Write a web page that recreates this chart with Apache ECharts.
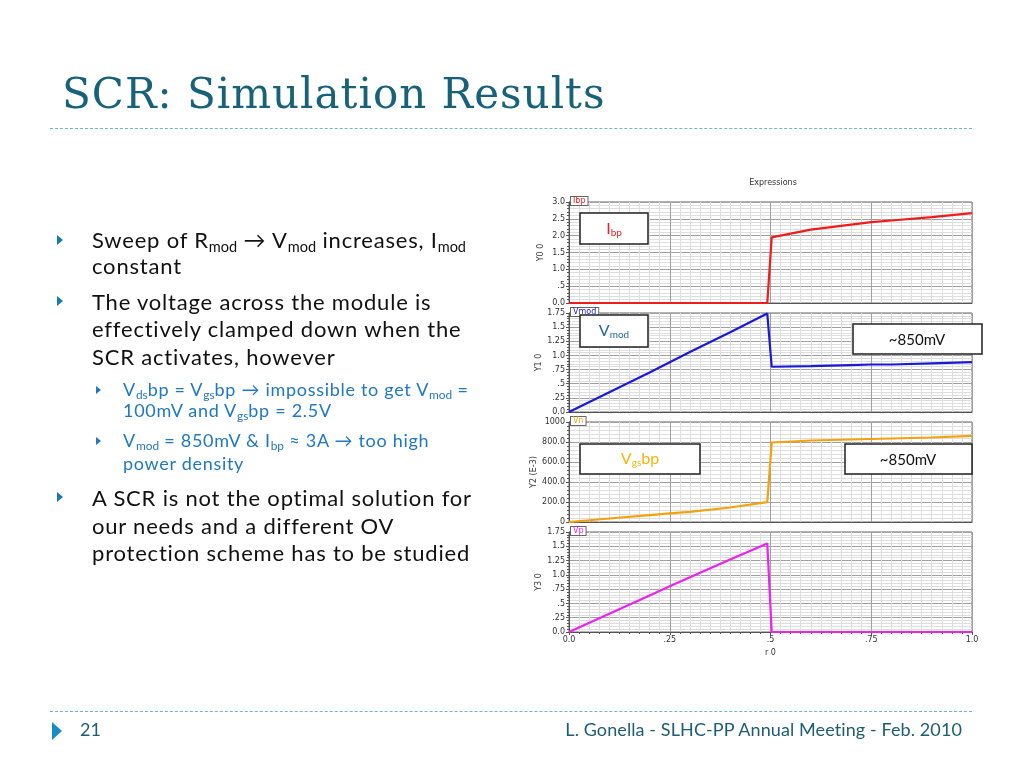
<!DOCTYPE html>
<html>
<head>
<meta charset="utf-8">
<script src="https://cdn.jsdelivr.net/npm/echarts@6/dist/echarts.min.js"></script>
<style>
  html, body { margin:0; padding:0; background:#fff; }
  #wrap { position:relative; width:1024px; height:768px; overflow:hidden; }
  #chart { position:absolute; left:0; top:0; width:1024px; height:768px; }
  .t { position:absolute; white-space:nowrap; font-family:Lato, "Open Sans", sans-serif; font-variant-ligatures:none; }
  .title { left:62px; top:69px; font-family:"DejaVu Serif", serif; font-size:42px; color:#17617b; letter-spacing:1px; }
  .b { left:92px; font-size:22px; color:#111; line-height:27px; letter-spacing:0.8px; }
  .s { left:123px; font-size:18px; color:#1f78c0; line-height:21px; letter-spacing:0.7px; }
  sub { font-size:0.66em; vertical-align:-0.28em; line-height:0; letter-spacing:0; }
  .tri { position:absolute; width:0; height:0; border-top:5px solid transparent; border-bottom:5px solid transparent; border-left:6px solid #1a78b0; }
  .tri.sm { border-top:4px solid transparent; border-bottom:4px solid transparent; border-left:5px solid #1f78c0; }
  .dash { position:absolute; left:50px; width:922px; height:0; border-top:1px dashed #6cb8cc; }
  .foot { font-size:18px; color:#1d5d74; top:718px; letter-spacing:0.1px; }
</style>
</head>
<body>
<div id="wrap">
  <div id="chart"></div>
  <div class="t title">SCR: Simulation Results</div>
  <div class="dash" style="top:128px"></div>

  <div class="tri" style="left:57px;top:235px"></div>
  <div class="t b" style="top:226px">Sweep of R<sub>mod</sub> → V<sub>mod</sub> increases, I<sub>mod</sub></div>
  <div class="t b" style="top:252px">constant</div>

  <div class="tri" style="left:57px;top:296px"></div>
  <div class="t b" style="top:288px">The voltage across the module is</div>
  <div class="t b" style="top:315px">effectively clamped down when the</div>
  <div class="t b" style="top:343px">SCR activates, however</div>

  <div class="tri sm" style="left:96px;top:386px"></div>
  <div class="t s" style="top:379px">V<sub>ds</sub>bp = V<sub>gs</sub>bp → impossible to get V<sub>mod</sub> =</div>
  <div class="t s" style="top:400px">100mV and V<sub>gs</sub>bp = 2.5V</div>

  <div class="tri sm" style="left:96px;top:437px"></div>
  <div class="t s" style="top:430px">V<sub>mod</sub> = 850mV &amp; I<sub>bp</sub> ≈ 3A → too high</div>
  <div class="t s" style="top:453px">power density</div>

  <div class="tri" style="left:57px;top:492px"></div>
  <div class="t b" style="top:484px">A SCR is not the optimal solution for</div>
  <div class="t b" style="top:512px">our needs and a different OV</div>
  <div class="t b" style="top:539px">protection scheme has to be studied</div>

  <div class="dash" style="top:711px"></div>
  <div style="position:absolute;left:52px;top:722px;width:0;height:0;border-top:9px solid transparent;border-bottom:9px solid transparent;border-left:10px solid #1a8cc4;"></div>
  <div class="t foot" style="left:80px">21</div>
  <div class="t foot" style="right:62px">L. Gonella - SLHC-PP Annual Meeting - Feb. 2010</div>
</div>
<script>
// ---- data ----
const rValues  = [0, 0.1, 0.2, 0.25, 0.3, 0.4, 0.492, 0.503, 0.6, 0.7, 0.75, 0.8, 0.9, 1.0];
const ibpValues  = [0, 0, 0, 0, 0, 0, 0, 1.95, 2.18, 2.33, 2.40, 2.45, 2.55, 2.67];
const vmodValues = [0, 0.35, 0.70, 0.88, 1.06, 1.41, 1.74, 0.80, 0.81, 0.83, 0.84, 0.84, 0.86, 0.88];
const vnValues   = [0, 35, 68, 86, 102, 145, 199, 795, 815, 825, 830, 835, 845, 861];
const vpValues   = [0, 0.32, 0.64, 0.80, 0.96, 1.27, 1.55, 0, 0, 0, 0, 0, 0, 0];
const seriesNames = ['Ibp', 'Vmod', 'Vn', 'Vp'];
const yAxisNames  = ['Y0 0', 'Y1 0', 'Y2 (E-3)', 'Y3 0'];
const yMax = [3.0, 1.75, 1000, 1.75];
const yInterval = [0.5, 0.25, 200, 0.25];

const colors = ['#f21b1b', '#1a1ad6', '#f4a20c', '#ee22ee'];
const allValues = [ibpValues, vmodValues, vnValues, vpValues];

const grids = [
  {top: 202, height: 101},
  {top: 313, height: 99},
  {top: 422, height: 100},
  {top: 532, height: 100}
];

function fmt(v) {
  if (v === 0) return '0.0';
  if (v < 1) return String(v).replace(/^0/, '');
  if (Number.isInteger(v)) return v.toFixed(1);
  return String(v);
}
function fmtMv(v) {
  if (v === 0 || v === 1000) return String(v);
  return v.toFixed(1);
}

const chart = echarts.init(document.getElementById('chart'), null, {renderer: 'canvas'});
const labelStyle = {fontSize: 8, color: '#333', fontFamily: 'DejaVu Sans, sans-serif'};

const option = {
  animation: false,
  backgroundColor: 'transparent',
  title: {
    text: 'Expressions', left: 768, top: 174, textAlign: 'center',
    textStyle: {fontSize: 8, fontWeight: 'normal', color: '#333', fontFamily: 'DejaVu Sans, sans-serif'}
  },
  grid: grids.map(g => ({left: 569, right: 52, top: g.top, height: g.height,
    show: true, borderColor: '#666', borderWidth: 1, backgroundColor: '#fff'})),
  xAxis: grids.map((g, i) => ({
    type: 'value', gridIndex: i, min: 0, max: 1, interval: 0.25,
    axisLine: {show: true, lineStyle: {color: '#555'}},
    axisTick: {show: i === 3, length: 3, lineStyle: {color: '#555'}},
    minorTick: {show: i === 3, splitNumber: 10, length: 2, lineStyle: {color: '#555'}},
    axisLabel: {show: i === 3, formatter: fmt, margin: 4, ...labelStyle},
    splitLine: {show: true, lineStyle: {color: '#a0a0a0', width: 1}},
    minorSplitLine: {show: true, lineStyle: {color: '#dedede', width: 1}},
    name: i === 3 ? 'r 0' : '', nameLocation: 'middle', nameGap: 17,
    nameTextStyle: labelStyle
  })),
  yAxis: grids.map((g, i) => ({
    type: 'value', gridIndex: i, min: 0, max: yMax[i], interval: yInterval[i],
    axisLine: {show: true, lineStyle: {color: '#555'}},
    axisTick: {show: true, length: 3, lineStyle: {color: '#555'}},
    minorTick: {show: true, splitNumber: 5, length: 2, lineStyle: {color: '#555'}},
    axisLabel: {formatter: i === 2 ? fmtMv : fmt, margin: 4, ...labelStyle},
    splitLine: {show: true, lineStyle: {color: '#a0a0a0', width: 1}},
    minorSplitLine: {show: true, lineStyle: {color: '#dedede', width: 1}},
    name: yAxisNames[i], nameLocation: 'middle', nameGap: i === 2 ? 26 : 24, nameRotate: 90,
    nameTextStyle: labelStyle
  })),
  series: allValues.map((vals, i) => ({
    name: seriesNames[i], type: 'line', xAxisIndex: i, yAxisIndex: i,
    data: rValues.map((r, k) => [r, vals[k]]),
    showSymbol: false, symbol: 'none',
    lineStyle: {color: colors[i], width: 2.2}, itemStyle: {color: colors[i]},
    z: 5
  })),
  graphic: [
    ...grids.map((g, i) => ({
      type: 'text', left: 570, top: g.top - 6, z: 20,
      style: {text: seriesNames[i], fill: colors[i], fontSize: 8, fontFamily: 'DejaVu Sans, sans-serif',
        backgroundColor: '#fff', borderColor: '#666', borderWidth: 1, padding: [0, 2, 0, 2]}
    })),
    {type: 'rect', shape: {x: 580, y: 213, width: 68, height: 31}, z: 20,
      style: {fill: '#fff', stroke: '#222', lineWidth: 1.5}},
    {type: 'text', x: 614, y: 229, z: 21,
      style: {text: '{a|I}{s|bp}', align: 'center', verticalAlign: 'middle',
        rich: {a: {fontSize: 16, fill: '#e82020', fontFamily: 'Lato'}, s: {fontSize: 10, fill: '#e82020', fontFamily: 'Lato', verticalAlign: 'bottom', padding: [8, 0, 0, 0]}}}},
    {type: 'rect', shape: {x: 580, y: 315, width: 68, height: 32}, z: 20,
      style: {fill: '#fff', stroke: '#222', lineWidth: 1.5}},
    {type: 'text', x: 614, y: 331, z: 21,
      style: {text: '{a|V}{s|mod}', align: 'center', verticalAlign: 'middle',
        rich: {a: {fontSize: 16, fill: '#1f6a96', fontFamily: 'Lato'}, s: {fontSize: 10, fill: '#1f6a96', fontFamily: 'Lato', verticalAlign: 'bottom', padding: [8, 0, 0, 0]}}}},
    {type: 'rect', shape: {x: 853, y: 324, width: 129, height: 30}, z: 20,
      style: {fill: '#fff', stroke: '#222', lineWidth: 1.5}},
    {type: 'text', x: 917, y: 340, z: 21,
      style: {text: '~850mV', align: 'center', verticalAlign: 'middle', fontSize: 15, fill: '#111', fontFamily: 'Lato'}},
    {type: 'rect', shape: {x: 580, y: 444, width: 120, height: 30}, z: 20,
      style: {fill: '#fff', stroke: '#222', lineWidth: 1.5}},
    {type: 'text', x: 640, y: 459, z: 21,
      style: {text: '{a|V}{s|gs}{a|bp}', align: 'center', verticalAlign: 'middle',
        rich: {a: {fontSize: 16, fill: '#f2b50c', fontFamily: 'Lato'}, s: {fontSize: 10, fill: '#f2b50c', fontFamily: 'Lato', verticalAlign: 'bottom', padding: [8, 0, 0, 0]}}}},
    {type: 'rect', shape: {x: 845, y: 444, width: 127, height: 30}, z: 20,
      style: {fill: '#fff', stroke: '#222', lineWidth: 1.5}},
    {type: 'text', x: 908, y: 460, z: 21,
      style: {text: '~850mV', align: 'center', verticalAlign: 'middle', fontSize: 15, fill: '#111', fontFamily: 'Lato'}}
  ]
};
chart.setOption(option);
</script>
</body>
</html>
